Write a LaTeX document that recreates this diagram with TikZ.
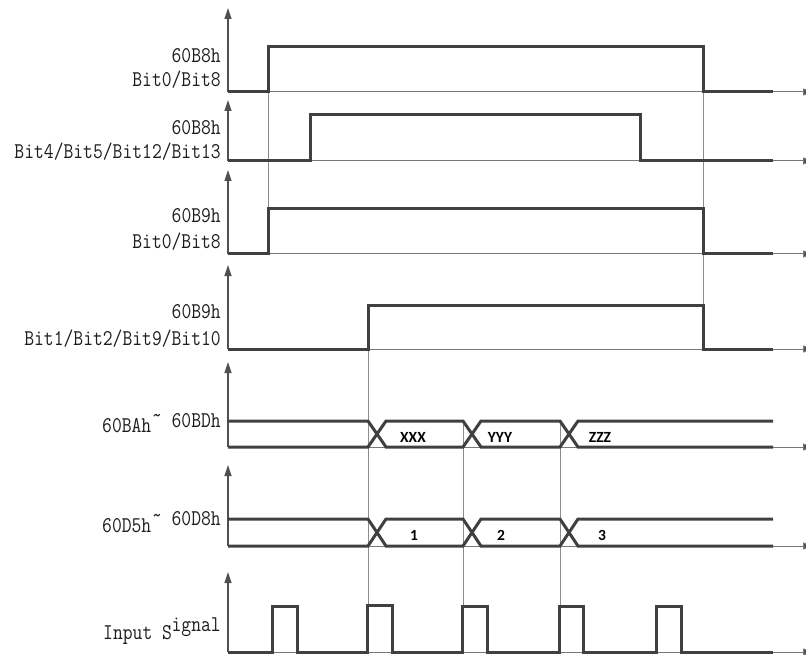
\documentclass[tikz,border=0pt]{standalone}
\usepackage{fontspec}
\usepackage{graphicx}
\usetikzlibrary{arrows.meta}
\newfontfamily\busfont{Carlito}
\definecolor{sigc}{RGB}{64,64,64}
\definecolor{axc}{RGB}{80,80,80}
\definecolor{basec}{RGB}{120,120,120}
\definecolor{gdc}{RGB}{140,140,140}
\definecolor{txc}{RGB}{30,30,30}
\newcommand{\lt}[1]{\scalebox{0.848}[1]{\ttfamily\fontsize{22.5}{22.5}\selectfont #1}}
\begin{document}
\begin{tikzpicture}[x=1pt,y=-1pt,
  sig/.style={line width=3pt, draw=sigc, line join=miter},
  upaxis/.style={line width=1.2pt, draw=axc, -{Triangle[length=11pt,width=7pt]}},
  raxis/.style={line width=1pt, draw=basec, -{Triangle[length=11pt,width=7pt,fill=axc]}},
  guide/.style={line width=0.9pt, draw=gdc},
  lab/.style={inner sep=0pt, text=txc},
  bus/.style={font=\busfont\bfseries\fontsize{15.5}{15.5}\selectfont, inner sep=0pt, text=black}
]
\useasboundingbox (0,0) rectangle (806,655);

% axes
\foreach \b/\t in {92/8,161/100,254/170,349/265,447/362,546/465,652/572}{
  \draw[raxis] (228,\b) -- (814,\b);
  \draw[upaxis] (228,\b) -- (228,\t);
}

% guide lines
\draw[guide] (268,92) -- (268,209);
\draw[guide] (703,92) -- (703,349);
\draw[guide] (368,349) -- (368,606);
\draw[guide] (463,421) -- (463,606);
\draw[guide] (560,421) -- (560,606);

% row 1
\draw[sig] (228,92) -- (268,92) -- (268,47) -- (703,47) -- (703,92) -- (773,92);
% row 2
\draw[sig] (228,161) -- (310,161) -- (310,115) -- (640,115) -- (640,161) -- (773,161);
% row 3
\draw[sig] (228,254) -- (268,254) -- (268,209) -- (703,209) -- (703,254) -- (773,254);
% row 4
\draw[sig] (228,349) -- (368,349) -- (368,305) -- (703,305) -- (703,349) -- (773,349);
% buses
\foreach \yu/\yl in {421/447, 519/546}{
  \draw[sig] (228,\yu) -- (368,\yu) -- (386,\yl) -- (463,\yl) -- (481,\yu) -- (560,\yu) -- (578,\yl) -- (773,\yl);
  \draw[sig] (228,\yl) -- (368,\yl) -- (386,\yu) -- (463,\yu) -- (481,\yl) -- (560,\yl) -- (578,\yu) -- (773,\yu);
}
% input signal
\draw[sig] (228,652) -- (272,652) -- (272,606) -- (297,606) -- (297,652)
  -- (367,652) -- (367,605) -- (392,605) -- (392,652)
  -- (462,652) -- (462,606) -- (487,606) -- (487,652)
  -- (559,652) -- (559,606) -- (583,606) -- (583,652)
  -- (656,652) -- (656,606) -- (681,606) -- (681,652) -- (773,652);

% labels
\node[lab, anchor=base east] (l1a) at (221,63) {\lt{60B8h}};
\node[lab, anchor=base east] (l1b) at (221,87) {\lt{Bit0/Bit8}};
\node[lab, anchor=base east] (l2a) at (221,135) {\lt{60B8h}};
\node[lab, anchor=base east] (l2b) at (221,159) {\lt{Bit4/Bit5/Bit12/Bit13}};
\node[lab, anchor=base east] (l3a) at (221,223) {\lt{60B9h}};
\node[lab, anchor=base east] (l3b) at (221,248) {\lt{Bit0/Bit8}};
\node[lab, anchor=base east] (l4a) at (221,318) {\lt{60B9h}};
\node[lab, anchor=base east] (l4b) at (221,345) {\lt{Bit1/Bit2/Bit9/Bit10}};
\node[lab, anchor=base west] (l5a) at (102,432) {\lt{60BAh}};
\node[lab, anchor=base] (l5t) at (157,422) {\lt{\textasciitilde}};
\node[lab, anchor=base east] (l5b) at (221,427) {\lt{60BDh}};
\node[lab, anchor=base west] (l6a) at (102,532) {\lt{60D5h}};
\node[lab, anchor=base] (l6t) at (157,522) {\lt{\textasciitilde}};
\node[lab, anchor=base east] (l6b) at (221,525) {\lt{60D8h}};
\node[lab, anchor=base west] (l7a) at (103,639) {\lt{Input S}};
\node[lab, anchor=base east] (l7b) at (221,631) {\lt{ignal}};

% bus values
\node[bus] (vx) at (413,437) {XXX};
\node[bus] (vy) at (500,437) {YYY};
\node[bus] (vz) at (600,437) {ZZZ};
\node[bus] (v1) at (414,535.5) {1};
\node[bus] (v2) at (501,535.5) {2};
\node[bus] (v3) at (602,535.5) {3};
\end{tikzpicture}
\end{document}
